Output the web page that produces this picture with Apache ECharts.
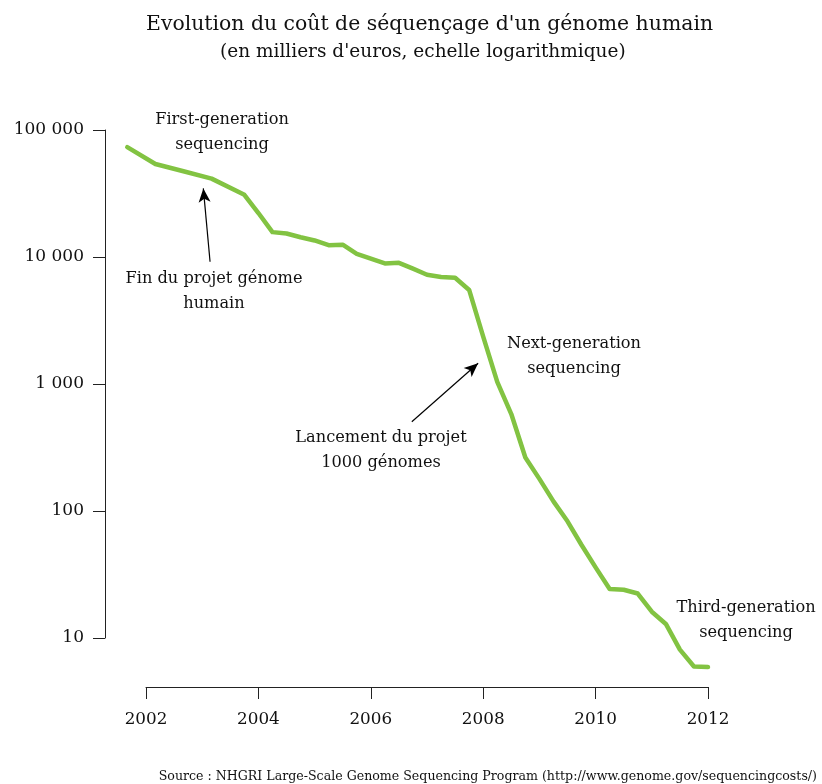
<!DOCTYPE html>
<html>
<head>
<meta charset="utf-8">
<script src="https://cdn.jsdelivr.net/npm/echarts@6/dist/echarts.min.js"></script>
<style>html,body{margin:0;padding:0;background:#fff}#c{width:822px;height:784px}</style>
</head>
<body>
<div id="c"></div>
<script>
// Dates (year-month) and cost in thousands of euros
const dates = ["2001-09","2002-03","2002-09","2003-03","2003-10","2004-01","2004-04","2004-07","2004-10",
  "2005-01","2005-04","2005-07","2005-10","2006-01","2006-04","2006-07","2006-10","2007-01","2007-04",
  "2007-07","2007-10","2008-01","2008-04","2008-07","2008-10","2009-01","2009-04","2009-07","2009-10",
  "2010-01","2010-04","2010-07","2010-10","2011-01","2011-04","2011-07","2011-10","2012-01"];
const costs = [73400,54000,47300,41400,30900,22200,15700,15300,14300,
  13500,12400,12500,10600,9700,8900,9000,8100,7250,6970,
  6870,5500,2360,1040,580,264,179,119,83,54,
  36,24.3,24,22.4,16.1,12.9,8.1,5.96,5.9];
const xTicks = [2002,2004,2006,2008,2010,2012];
const yTicks = [10,100,1000,10000,100000];

const FONT = 'DejaVu Serif';
function toYear(s){ const p=s.split('-'); return +p[0] + (+p[1]-1)/12; }
const seriesData = dates.map((d,i)=>[toYear(d), costs[i]]);
function fmt(v){ return String(Math.round(v)).replace(/\B(?=(\d{3})+(?!\d))/g,' '); }

const chart = echarts.init(document.getElementById('c'), null, {renderer:'canvas'});
const axisLineStyle = {color:'#222', width:1};
const annFont = '16.2px "DejaVu Serif"';
chart.setOption({
  animation:false,
  backgroundColor:'#fff',
  textStyle:{fontFamily:FONT},
  title:[
    {text:'Evolution du coût de séquençage d\'un génome humain', left:141, top:10,
     textStyle:{fontFamily:FONT,fontWeight:'normal',fontSize:20.4,color:'#111'}},
    {text:'(en milliers d\'euros, echelle logarithmique)', left:215, top:38,
     textStyle:{fontFamily:FONT,fontWeight:'normal',fontSize:18.5,color:'#111'}},
    {text:'Source : NHGRI Large-Scale Genome Sequencing Program (http://www.genome.gov/sequencingcosts/)',
     right:0, top:765, textStyle:{fontFamily:FONT,fontWeight:'normal',fontSize:12.6,color:'#111'}}
  ],
  grid:[
    {left:117.9, width:618.2, top:130, height:635, containLabel:false}, // data
    {left:146, width:562, top:600, height:87, containLabel:false},      // x axis display
    {left:105, width:10, top:130, height:508, containLabel:false}       // y axis display
  ],
  xAxis:[
    {gridIndex:0, type:'value', min:2001.5, max:2012.5, show:false},
    {gridIndex:1, type:'value', min:2002, max:2012, interval:2, position:'bottom',
     axisLine:{show:true,lineStyle:axisLineStyle},
     axisTick:{show:true,length:12,inside:false,lineStyle:axisLineStyle},
     axisLabel:{show:true,margin:24,fontFamily:FONT,fontSize:16.8,color:'#111',
       formatter:v=>xTicks.includes(v)?String(v):''},
     splitLine:{show:false}},
    {gridIndex:2, type:'value', show:false}
  ],
  yAxis:[
    {gridIndex:0, type:'log', logBase:10, min:1, max:100000, show:false},
    {gridIndex:1, type:'value', show:false},
    {gridIndex:2, type:'log', logBase:10, min:10, max:100000, position:'left',
     axisLine:{show:true,lineStyle:axisLineStyle},
     axisTick:{show:true,length:12,inside:false,lineStyle:axisLineStyle},
     axisLabel:{show:true,margin:21,fontFamily:FONT,fontSize:17,color:'#111',
       formatter:v=>yTicks.includes(Math.round(v))?fmt(v):''},
     splitLine:{show:false}, minorTick:{show:false}}
  ],
  series:[
    {type:'line', xAxisIndex:0, yAxisIndex:0, data:seriesData, showSymbol:false,
     lineStyle:{color:'#82c342', width:4.5, join:'round', cap:'round'},
     markLine:{silent:true, symbol:['none','arrow'], symbolSize:[9,14],
       label:{show:false},
       lineStyle:{color:'#000', width:1.2, type:'solid'},
       data:[
         [{coord:[2003.14,9180]},{coord:[2003.02,34700]}],
         [{coord:[2006.73,505]},{coord:[2007.91,1455]}]
       ]}
    }
  ],
  graphic:[
    {type:'text', x:222, y:132, style:{text:'First-generation\nsequencing', font:annFont, fill:'#111', align:'center', verticalAlign:'middle', lineHeight:25}},
    {type:'text', x:214, y:291, style:{text:'Fin du projet génome\nhumain', font:annFont, fill:'#111', align:'center', verticalAlign:'middle', lineHeight:25}},
    {type:'text', x:574, y:356, style:{text:'Next-generation\nsequencing', font:annFont, fill:'#111', align:'center', verticalAlign:'middle', lineHeight:25}},
    {type:'text', x:381, y:450, style:{text:'Lancement du projet\n1000 génomes', font:annFont, fill:'#111', align:'center', verticalAlign:'middle', lineHeight:25}},
    {type:'text', x:746, y:620, style:{text:'Third-generation\nsequencing', font:annFont, fill:'#111', align:'center', verticalAlign:'middle', lineHeight:25}}
  ]
});
</script>
</body>
</html>
